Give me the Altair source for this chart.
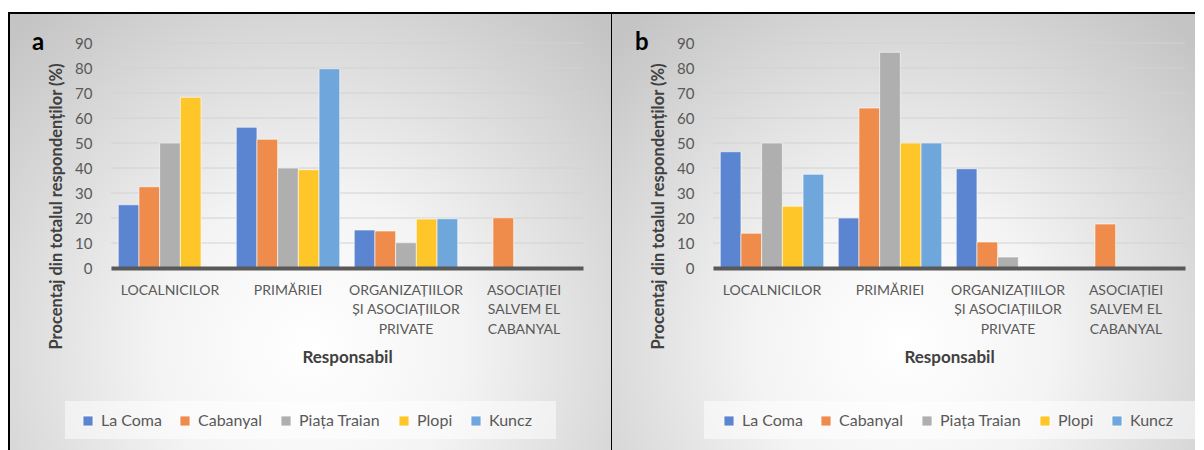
import altair as alt
import pandas as pd

categories = ["LOCALNICILOR", "PRIMĂRIEI", "ORGANIZAȚIILOR\nȘI ASOCIAȚIILOR\nPRIVATE", "ASOCIAȚIEI\nSALVEM EL\nCABANYAL"]
series = ["La Coma", "Cabanyal", "Piața Traian", "Plopi", "Kuncz"]
colors = ["#5B85D0", "#EF8C4C", "#AFAFAF", "#FFC62A", "#6FA6DB"]
y_ticks = [0, 10, 20, 30, 40, 50, 60, 70, 80, 90]
panel_letters = ["a", "b"]

# panel a (values per category, in category order)
a_la_coma = [25.3, 56.3, 15.2, 0]
a_cabanyal = [32.5, 51.5, 14.8, 20.1]
a_piata = [50.0, 40.0, 10.1, 0]
a_plopi = [68.3, 39.3, 19.6, 0]
a_kuncz = [0, 79.7, 19.7, 0]

# panel b
b_la_coma = [46.5, 20.0, 39.7, 0]
b_cabanyal = [13.9, 64.0, 10.4, 17.6]
b_piata = [50.0, 86.3, 4.4, 0]
b_plopi = [24.7, 50.0, 0, 0]
b_kuncz = [37.5, 50.0, 0, 0]

FONT = "Lato"
W, H = 472, 225
Y_TITLE = "Procentaj din totalul respondenților (%)"


def make_df(lists):
    rows = []
    for s, vals in zip(series, lists):
        for c, v in zip(categories, vals):
            rows.append({"category": c, "series": s, "value": v})
    return pd.DataFrame(rows)


def y_axis():
    return alt.Axis(
        title=Y_TITLE,
        values=y_ticks, grid=False, domain=False, ticks=False,
        labelFont=FONT, labelFontSize=15, labelColor="#595959", labelPadding=19,
        titleFont=FONT, titleFontSize=16.5, titleFontWeight="bold", titleColor="#404040",
        titleAngle=270, titleX=-50, titleY=163, titleAlign="center",
        titleBaseline="alphabetic", zindex=1,
    )


def panel(letter, lists, bg_x0, bg_x1, framed, box_x0, legend_x, letter_x):
    df = make_df(lists)
    yscale = alt.Scale(domain=[0, 90], nice=False, zero=True)
    one = pd.DataFrame({"p": [letter]})

    rect_kw = dict(
        fill={
            "gradient": "radial",
            "stops": [
                {"offset": 0, "color": "#ffffff"},
                {"offset": 0.35, "color": "#f4f4f4"},
                {"offset": 1, "color": "#c4c4c4"},
            ],
            "x1": 0.5, "y1": 0.68, "r1": 0,
            "x2": 0.5, "y2": 0.68, "r2": 0.72,
        }
    )
    if framed:
        rect_kw.update(stroke="black", strokeWidth=2)
    bg = alt.Chart(one).mark_rect(**rect_kw).encode(
        x=alt.value(bg_x0), x2=alt.value(bg_x1), y=alt.value(-30), y2=alt.value(420)
    )
    top_line = alt.Chart(one).mark_rule(color="black", strokeWidth=2).encode(
        x=alt.value(bg_x0), x2=alt.value(bg_x1), y=alt.value(-30)
    )

    box = alt.Chart(one).mark_rect(fill="white", fillOpacity=0.5).encode(
        x=alt.value(box_x0), x2=alt.value(box_x0 + 491), y=alt.value(358), y2=alt.value(396)
    )

    grid = alt.Chart(pd.DataFrame({"t": y_ticks})).mark_rule(
        color="#d2d2d2", strokeWidth=1
    ).encode(y=alt.Y("t:Q", scale=yscale, title=Y_TITLE, axis=y_axis()))

    bars = alt.Chart(df).transform_filter("datum.value > 0").mark_bar(
        stroke="white", strokeWidth=1, strokeOpacity=0.6
    ).encode(
        x=alt.X(
            "category:N",
            sort=categories,
            scale=alt.Scale(domain=categories, paddingInner=0.123, paddingOuter=0.0615),
            axis=alt.Axis(
                title="Responsabil",
                titleFont=FONT, titleFontSize=17, titleFontWeight="bold", titleColor="#404040",
                titleY=94, titleBaseline="alphabetic",
                labelFont=FONT, labelFontSize=14, labelColor="#595959", labelAngle=0,
                labelExpr="split(datum.label, '\\n')", labelLineHeight=19.5,
                labelPadding=15, labelBaseline="top", labelLimit=0,
                domainColor="#595959", domainWidth=4, ticks=False, grid=False, zindex=1,
            ),
        ),
        xOffset=alt.XOffset("series:N", sort=series, scale=alt.Scale(domain=series, paddingInner=0)),
        y=alt.Y("value:Q", scale=yscale, stack=None, title=Y_TITLE, axis=y_axis()),
        color=alt.Color(
            "series:N",
            sort=series,
            scale=alt.Scale(domain=series, range=colors),
            legend=alt.Legend(
                title=None, orient="none", legendX=legend_x, legendY=370,
                direction="horizontal", symbolType="square", symbolSize=100,
                symbolStrokeWidth=0.8, symbolStrokeColor="white",
                labelFont=FONT, labelFontSize=16, labelColor="#595959",
                labelOffset=5, columnPadding=15, padding=0,
            ),
        ),
    )

    txt = alt.Chart(one).mark_text(
        font=FONT, fontSize=24, fontWeight="bold", color="black", align="left", baseline="alphabetic"
    ).encode(x=alt.value(letter_x), y=alt.value(7), text="p:N")

    layers = [bg, box, grid, bars, txt]
    if not framed:
        layers.insert(1, top_line)
    return alt.layer(*layers).properties(width=W, height=H)


pa = panel(panel_letters[0], [a_la_coma, a_cabanyal, a_piata, a_plopi, a_kuncz], -102, 501, True, -46, -31, -79)
pb = panel(panel_letters[1], [b_la_coma, b_cabanyal, b_piata, b_plopi, b_kuncz], -101, 482, False, -9, 8, -78)

chart = alt.hconcat(pa, pb, spacing=130, bounds="flush").resolve_legend(
    color="independent"
).configure_view(stroke=None).properties(
    padding={"left": 0, "top": 4, "right": 0, "bottom": 0}
)

chart.save("out.html", embed_options={"renderer": "svg", "actions": False})
